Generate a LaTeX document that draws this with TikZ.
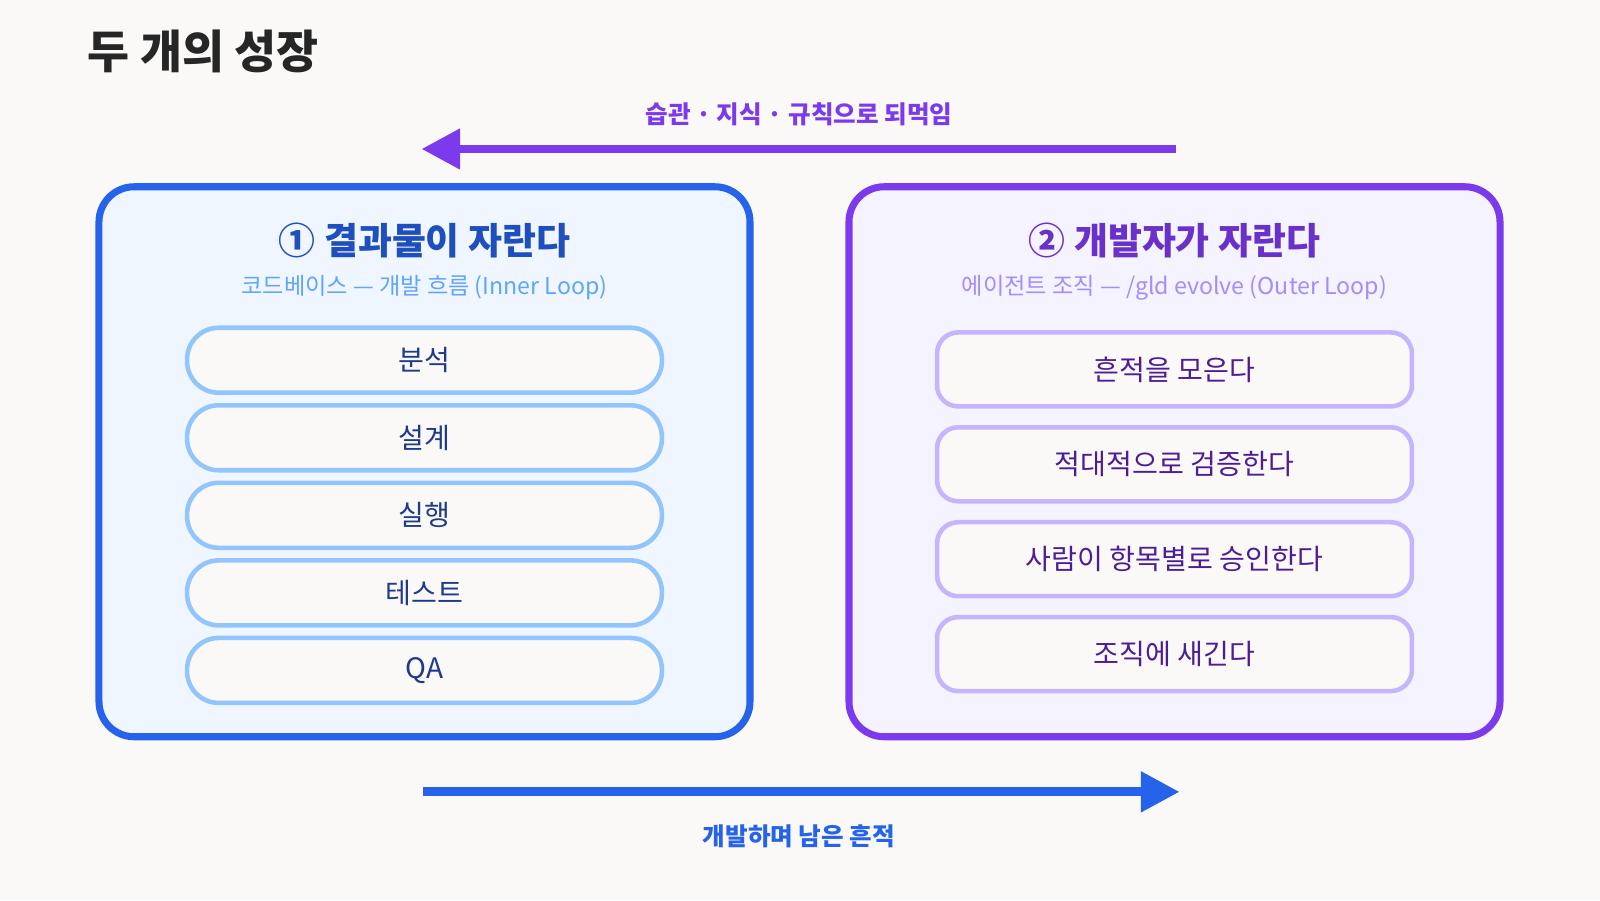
\documentclass[tikz,border=0pt]{standalone}
\usepackage{fontspec}
\setmainfont{Noto Sans CJK KR}
\usetikzlibrary{arrows.meta}
\definecolor{bg}{HTML}{FAF9F7}
\definecolor{blu}{HTML}{2563EB}
\definecolor{pur}{HTML}{7C3AED}
\definecolor{lblu}{HTML}{EFF6FF}
\definecolor{lpur}{HTML}{F5F3FF}
\definecolor{pblu}{HTML}{93C5FD}
\definecolor{ppur}{HTML}{C4B5FD}
\definecolor{sblu}{HTML}{60A5FA}
\definecolor{spur}{HTML}{A78BFA}
\definecolor{tblu}{HTML}{1E3A8A}
\definecolor{tpur}{HTML}{4C1D95}
\begin{document}
\begin{tikzpicture}[x=0.010204cm,y=-0.010204cm,
 panel/.style={rounded corners=10pt,line width=2pt},
 pill/.style={draw=pblu,fill=bg,line width=1.3pt,rounded corners=9pt,minimum width=4.75cm,minimum height=0.65cm,text=tblu,font=\fontsize{8}{10}\selectfont},
 stepbox/.style={draw=ppur,fill=bg,line width=1.3pt,rounded corners=6pt,minimum width=4.75cm,minimum height=0.74cm,text=tpur,font=\fontsize{8}{10}\selectfont},
 arr/.style={line width=2.5pt,-{Triangle[length=11pt,width=11pt]}}]
\path[fill=bg] (0,0) rectangle (1568,882);
\node[anchor=west,font=\fontsize{13}{15}\selectfont\bfseries,text=black!85] (title) at (74,50) {두 개의 성장};
\draw[panel,draw=blu,fill=lblu] (97,183) rectangle (735,722);
\draw[panel,draw=pur,fill=lpur] (832,183) rectangle (1470,722);
\node[font=\fontsize{10.5}{12}\selectfont\bfseries,text=blu!80!black] (lt) at (416,236) {① 결과물이 자란다};
\node[font=\fontsize{6.6}{8}\selectfont,text=sblu] (ls) at (416,282) {코드베이스 — 개발 흐름 (Inner Loop)};
\node[font=\fontsize{10.5}{12}\selectfont\bfseries,text=pur!85!black] (rt) at (1151,236) {② 개발자가 자란다};
\node[font=\fontsize{6.6}{8}\selectfont,text=spur] (rs) at (1151,282) {에이전트 조직 — /gld evolve (Outer Loop)};
\node[pill] (p1) at (416,353) {분석};
\node[pill] (p2) at (416,429) {설계};
\node[pill] (p3) at (416,505) {실행};
\node[pill] (p4) at (416,581) {테스트};
\node[pill] (p5) at (416,657) {QA};
\node[stepbox] (s1) at (1151,362) {흔적을 모은다};
\node[stepbox] (s2) at (1151,455) {적대적으로 검증한다};
\node[stepbox] (s3) at (1151,548) {사람이 항목별로 승인한다};
\node[stepbox] (s4) at (1151,641) {조직에 새긴다};
\coordinate (ta) at (1152,146); \coordinate (tb) at (413,146);
\draw[arr,draw=pur,fill=pur] (ta) -- (tb);
\node[font=\fontsize{7}{9}\selectfont\bfseries,text=pur] (tl) at (783,112) {습관 · 지식 · 규칙으로 되먹임};
\coordinate (ba) at (415,776); \coordinate (bb) at (1156,776);
\draw[arr,draw=blu,fill=blu] (ba) -- (bb);
\node[font=\fontsize{7}{9}\selectfont\bfseries,text=blu] (bl) at (783,820) {개발하며 남은 흔적};
\end{tikzpicture}
\end{document}
